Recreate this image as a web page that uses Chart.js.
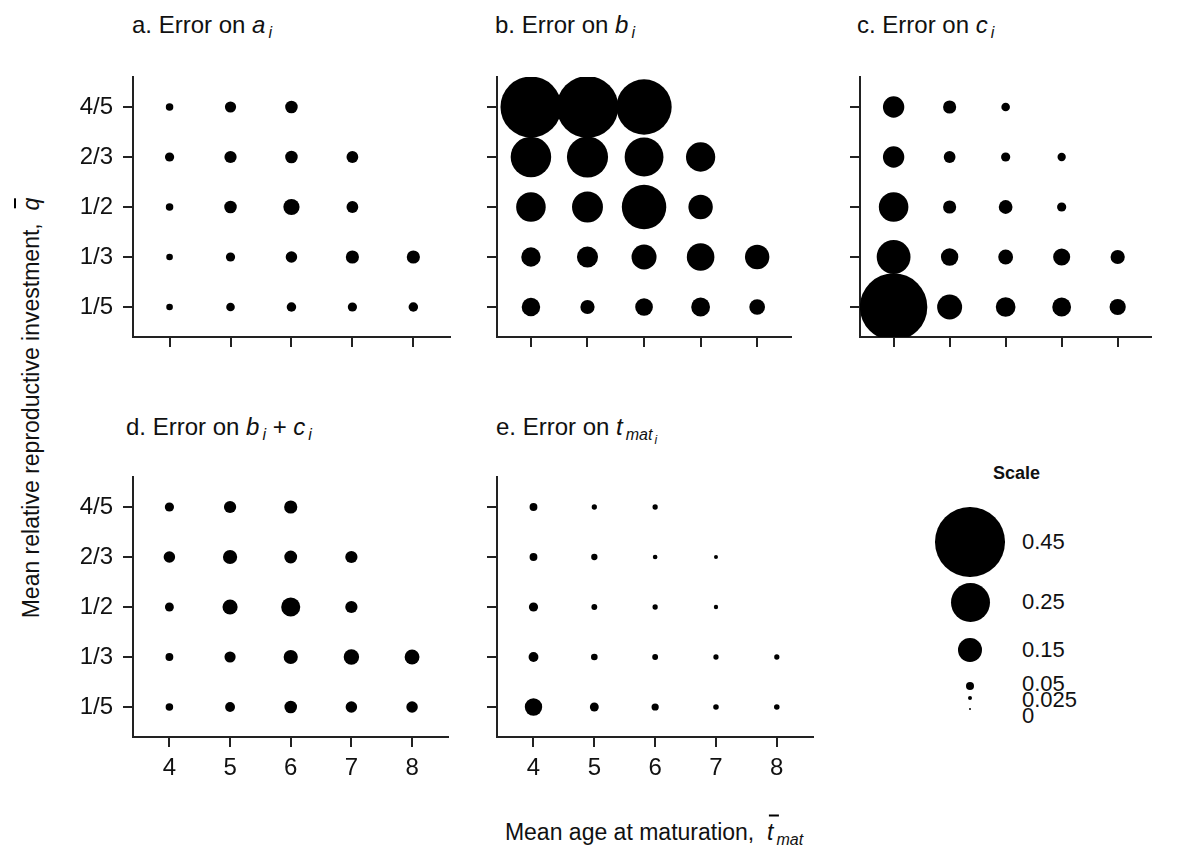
<!DOCTYPE html>
<html>
<head>
<meta charset="utf-8">
<script src="https://cdn.jsdelivr.net/npm/chart.js@4/dist/chart.umd.min.js"></script>
<style>
  body { margin: 0; background: #fff; overflow: hidden; font-family: "Liberation Sans", Arial, sans-serif; color: #111; }
  #wrap { position: relative; width: 1184px; height: 867px; }
  #wrap canvas { position: absolute; }
  .ttl { position: absolute; font-size: 24px; line-height: 24px; white-space: nowrap; }
  .sb { font-size: 16px; font-style: italic; position: relative; top: 5px; margin-left: 3px; }
  .ssb { font-size: 12px; font-style: italic; position: relative; top: 4px; margin-left: 2px; }
  .ob { position: relative; display: inline-block; }
  .ob::before { content: ""; position: absolute; left: 2px; width: 10px; top: -5px; border-top: 2px solid #000; }
  #ytitle { position: absolute; left: 31px; top: 408px; transform: translate(-50%, -50%) rotate(-90deg); font-size: 23px; line-height: 24px; white-space: nowrap; }
  #xtitle { position: absolute; left: 654px; top: 833px; transform: translate(-50%, -50%); font-size: 23px; line-height: 24px; white-space: nowrap; }
  .key { position: absolute; background: #000; border-radius: 50%; }
  .keylab { position: absolute; font-size: 22px; line-height: 22px; left: 1022px; }
</style>
</head>
<body>
<div id="wrap">
  <div class="ttl" style="left:132px;top:13px">a. Error on <i>a</i><span class="sb">i</span></div>
  <div class="ttl" style="left:495px;top:13px">b. Error on <i>b</i><span class="sb">i</span></div>
  <div class="ttl" style="left:857px;top:13px">c. Error on <i>c</i><span class="sb">i</span></div>
  <div class="ttl" style="left:126px;top:415px">d. Error on <i>b</i><span class="sb">i</span> + <i>c</i><span class="sb">i</span></div>
  <div class="ttl" style="left:496px;top:415px">e. Error on <i>t</i><span class="sb">mat<span class="ssb">i</span></span></div>
  <div id="ytitle">Mean relative reproductive investment,&nbsp; <i class="ob">q</i></div>
  <div id="xtitle">Mean age at maturation,&nbsp; <i class="ob">t</i><span class="sb">mat</span></div>
  <div class="ttl" style="left:993px;top:461px;font-size:18px;font-weight:bold">Scale</div>
</div>
<script>
// x categories (mean age at maturation) and y categories (mean relative reproductive investment)
const ageTicks = [4, 5, 6, 7, 8];
const qLabels = ["1/5", "1/3", "1/2", "2/3", "4/5"];

// one row per q level, bottom (1/5) to top (4/5); one value per age from 4 upwards
const errA = [
  [0.037, 0.05, 0.056, 0.054, 0.056],
  [0.037, 0.054, 0.069, 0.08, 0.08],
  [0.043, 0.076, 0.10, 0.071],
  [0.054, 0.074, 0.076, 0.071],
  [0.043, 0.067, 0.076],
];
const errB = [
  [0.115, 0.087, 0.11, 0.117, 0.097],
  [0.121, 0.132, 0.158, 0.175, 0.154],
  [0.188, 0.197, 0.286, 0.154],
  [0.26, 0.264, 0.249, 0.186],
  [0.394, 0.40, 0.357],
];
const errC = [
  [0.437, 0.158, 0.123, 0.117, 0.10],
  [0.216, 0.108, 0.091, 0.106, 0.087],
  [0.188, 0.08, 0.084, 0.054],
  [0.134, 0.071, 0.054, 0.048],
  [0.134, 0.08, 0.05],
];
const errBC = [
  [0.043, 0.058, 0.076, 0.069, 0.069],
  [0.045, 0.067, 0.087, 0.095, 0.091],
  [0.052, 0.093, 0.119, 0.074],
  [0.069, 0.087, 0.078, 0.074],
  [0.054, 0.074, 0.08],
];
const errT = [
  [0.108, 0.052, 0.041, 0.03, 0.03],
  [0.058, 0.037, 0.032, 0.028, 0.028],
  [0.054, 0.032, 0.028, 0.022],
  [0.045, 0.035, 0.024, 0.02],
  [0.045, 0.028, 0.028],
];

// bubble size key
const scaleValues = [0.45, 0.25, 0.15, 0.05, 0.025, 0];
const scaleLabels = ["0.45", "0.25", "0.15", "0.05", "0.025", "0"];

function radius(v) {
  return Math.max(0.5 + 76 * v, 1.2);
}

Chart.defaults.font.family = '"Liberation Sans", Arial, sans-serif';
Chart.defaults.font.size = 24;
Chart.defaults.color = "#111";

const wrap = document.getElementById("wrap");
const PAD_L = 75, PAD_T = 40, PLOT_W = 319, PLOT_H = 260;

const axisGrid = { drawOnChartArea: false, drawTicks: true, tickLength: 10, color: "#222", lineWidth: 2 };
const axisBorder = { display: true, color: "#222", width: 2 };

function makePanel(values, left, top, showX, showY) {
  const cv = document.createElement("canvas");
  cv.width = PAD_L + PLOT_W + 6;
  cv.height = PAD_T + PLOT_H + 60;
  cv.style.left = left - PAD_L + "px";
  cv.style.top = top - PAD_T + "px";
  wrap.appendChild(cv);

  const points = [];
  values.forEach((row, i) => {
    row.forEach((v, j) => points.push({ x: ageTicks[j], y: i + 1, r: radius(v) }));
  });

  new Chart(cv, {
    type: "bubble",
    data: {
      datasets: [{ data: points, backgroundColor: "#000", borderWidth: 0, clip: 0 }],
    },
    options: {
      responsive: false,
      animation: false,
      events: [],
      layout: { padding: { top: PAD_T, right: 6, left: 0, bottom: 0 } },
      plugins: { legend: { display: false }, tooltip: { enabled: false } },
      scales: {
        x: {
          type: "linear",
          min: 3.4,
          max: 8.6,
          afterBuildTicks: (s) => { s.ticks = ageTicks.map((v) => ({ value: v })); },
          afterFit: (s) => { s.height = 60; },
          grid: axisGrid,
          border: axisBorder,
          ticks: { padding: 7, color: showX ? "#111" : "rgba(0,0,0,0)" },
        },
        y: {
          type: "linear",
          min: 0.4,
          max: 5.6,
          afterBuildTicks: (s) => { s.ticks = qLabels.map((_, i) => ({ value: i + 1 })); },
          afterFit: (s) => { s.width = PAD_L; },
          grid: axisGrid,
          border: axisBorder,
          ticks: { padding: 10, color: showY ? "#111" : "rgba(0,0,0,0)", callback: (v) => qLabels[v - 1] },
        },
      },
    },
  });
}

makePanel(errA, 133, 77, false, true);
makePanel(errB, 497, 77, false, false);
makePanel(errC, 860, 77, false, false);
makePanel(errBC, 133, 477, true, true);
makePanel(errT, 497, 477, true, false);

// size key on the right
const keyY = [542, 602, 650, 686, 698, 709];
const keyLabY = [542, 602, 650, 684, 700, 716];
scaleValues.forEach((v, i) => {
  const r = radius(v);
  const dot = document.createElement("div");
  dot.className = "key";
  dot.style.left = 970 - r + "px";
  dot.style.top = keyY[i] - r + "px";
  dot.style.width = dot.style.height = 2 * r + "px";
  wrap.appendChild(dot);
  const lab = document.createElement("div");
  lab.className = "keylab";
  lab.style.top = keyLabY[i] - 11 + "px";
  lab.textContent = scaleLabels[i];
  wrap.appendChild(lab);
});
</script>
</body>
</html>
